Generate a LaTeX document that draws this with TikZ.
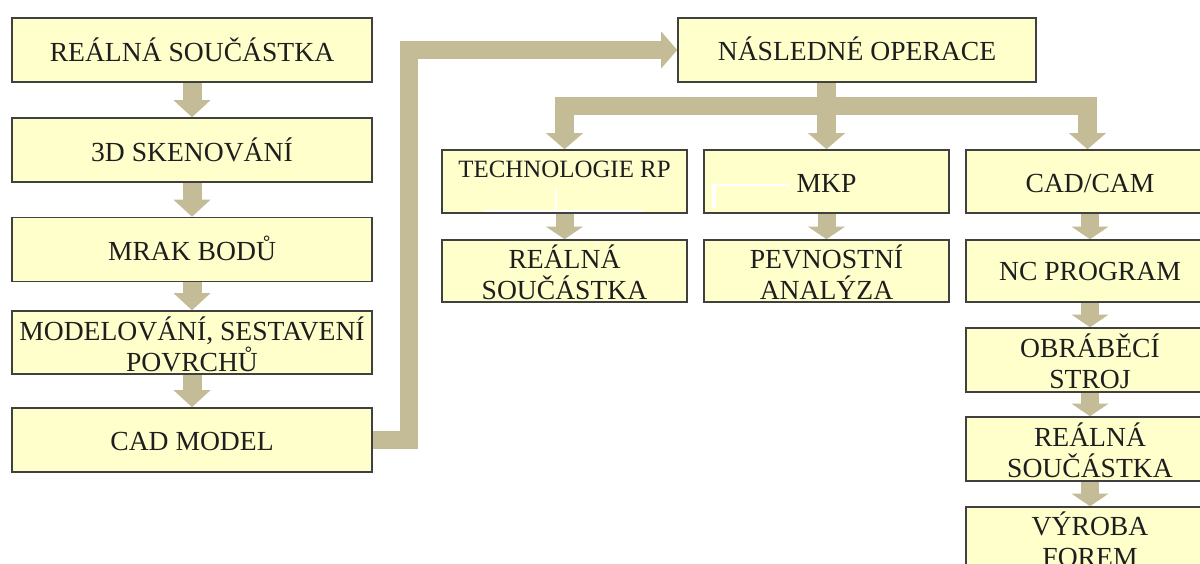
\documentclass[tikz,border=0pt]{standalone}
\usepackage{fontspec}
\setmainfont{Liberation Serif}
\usetikzlibrary{arrows.meta,backgrounds}

\definecolor{boxfill}{RGB}{255,255,204}
\definecolor{boxline}{RGB}{64,64,64}
\definecolor{flowc}{RGB}{196,188,150}
\definecolor{inkc}{RGB}{30,30,30}

\tikzset{
  stepbox/.style={draw=boxline, fill=boxfill, line width=1.6pt, inner sep=0pt},
  lbl/.style={anchor=base, inner sep=0pt, text=inkc, align=center,
              font=\fontsize{27.6}{30.5}\selectfont},
  flowlong/.style={draw=flowc, line width=19pt, line join=miter,
              -{Triangle[width=37pt,length=17pt,line width=0pt]}},
  flowshort/.style={draw=flowc, line width=18pt, line join=miter,
              -{Triangle[width=37pt,length=12.5pt,line width=0pt]}},
  flowbranch/.style={draw=flowc, line width=18.5pt, line join=miter,
              -{Triangle[width=37pt,length=16pt,line width=0pt]}},
}

\begin{document}
\begin{tikzpicture}[x=1pt,y=-1pt]
\useasboundingbox (0,0) rectangle (1200,564);
\clip (0,0) rectangle (1200,564);

% left column: from the real part to the CAD model
\node[stepbox, minimum width=360pt, minimum height=64pt] (b1) at (192,50) {};
\node[stepbox, minimum width=360pt, minimum height=64pt] (b2) at (192,150) {};
\node[stepbox, minimum width=360pt, minimum height=64pt] (b3) at (192,249.5) {};
\node[stepbox, minimum width=360pt, minimum height=63pt] (b4) at (192,342.5) {};
\node[stepbox, minimum width=360pt, minimum height=64pt] (b5) at (192,440) {};

% single-line labels sit on their baseline; two-line labels on the last line's baseline
\node[lbl] (t1) at ([yshift=-12pt]b1.center) {REÁLNÁ SOUČÁSTKA};
\node[lbl] (t2) at ([yshift=-12pt]b2.center) {3D SKENOVÁNÍ};
\node[lbl] (t3) at ([yshift=-11pt]b3.center) {MRAK BODŮ};
\node[lbl] (t4) at ([yshift=-28.5pt]b4.center) {MODELOVÁNÍ, SESTAVENÍ\\POVRCHŮ};
\node[lbl] (t5) at ([yshift=-10pt]b5.center) {CAD MODEL};

% follow-up operations
\node[stepbox, minimum width=358pt, minimum height=64pt] (nasl) at (857,50) {};
\node[lbl] (tn) at ([yshift=-11pt]nasl.center) {NÁSLEDNÉ OPERACE};

\node[stepbox, minimum width=245pt, minimum height=63pt] (tech) at (564.5,181.5) {};
\node[stepbox, minimum width=245pt, minimum height=63pt] (mkp) at (826.5,181.5) {};
\node[stepbox, minimum width=248pt, minimum height=63pt] (cadcam) at (1090,181.5) {};

\node[anchor=base, inner sep=0pt, text=inkc, font=\fontsize{24.9}{28}\selectfont]
  (ttech) at ([yshift=3.5pt]tech.center) {TECHNOLOGIE RP};
\node[lbl] (tmkp) at ([yshift=-11.5pt]mkp.center) {MKP};
\node[lbl] (tcad) at ([yshift=-11.5pt]cadcam.center) {CAD/CAM};

\node[stepbox, minimum width=245pt, minimum height=62pt] (rp) at (564.5,271) {};
\node[stepbox, minimum width=245pt, minimum height=62pt] (pev) at (826.5,271) {};
\node[stepbox, minimum width=248pt, minimum height=62pt] (nc) at (1090,271) {};

\node[lbl] (trp) at ([yshift=-28pt]rp.center) {REÁLNÁ\\SOUČÁSTKA};
\node[lbl] (tpev) at ([yshift=-28pt]pev.center) {PEVNOSTNÍ\\ANALÝZA};
\node[lbl] (tnc) at ([yshift=-9pt]nc.center) {NC PROGRAM};

\node[stepbox, minimum width=248pt, minimum height=64pt] (obr) at (1090,360) {};
\node[stepbox, minimum width=248pt, minimum height=64pt] (real) at (1090,449) {};
\node[stepbox, minimum width=248pt, minimum height=64pt] (vyr) at (1090,539) {};

\node[lbl] (tobr) at ([yshift=-28pt]obr.center) {OBRÁBĚCÍ\\STROJ};
\node[lbl] (treal) at ([yshift=-28pt]real.center) {REÁLNÁ\\SOUČÁSTKA};
\node[lbl] (tvyr) at ([yshift=-27pt]vyr.center) {VÝROBA\\FOREM};

% small white marks inside two of the boxes
\draw[white, line width=2pt] (556,188) -- (556,211) (485,211) -- (643,211);
\draw[white, line width=1.5pt] (712,185) -- (790,185);
\draw[white, line width=4pt] (714,185) -- (714,208);

\coordinate (riser) at (409,50);
\coordinate (bus) at (0,106);

\begin{pgfonlayer}{background}
  \draw[flowlong] (b1.south) -- (b2.north);
  \draw[flowlong] (b2.south) -- (b3.north);
  \draw[flowlong] (b3.south) -- (b4.north);
  \draw[flowlong] (b4.south) -- (b5.north);

  \draw[flowbranch] (b5.east) -| (riser) -- (nasl.west);

  \draw[flowbranch] (nasl.south -| mkp.north) -- (mkp.north);
  \draw[flowbranch] (nasl.south -| mkp.north) -- (mkp.north |- bus) -| (tech.north);
  \draw[flowbranch] (nasl.south -| mkp.north) -- (mkp.north |- bus) -| ([xshift=-2.5pt]cadcam.north);

  \draw[flowshort] (tech.south) -- (rp.north);
  \draw[flowshort] (mkp.south) -- (pev.north);
  \draw[flowshort] (cadcam.south) -- (nc.north);
  \draw[flowshort] (nc.south) -- (obr.north);
  \draw[flowshort] (obr.south) -- (real.north);
  \draw[flowshort] (real.south) -- (vyr.north);
\end{pgfonlayer}
\end{tikzpicture}
\end{document}
